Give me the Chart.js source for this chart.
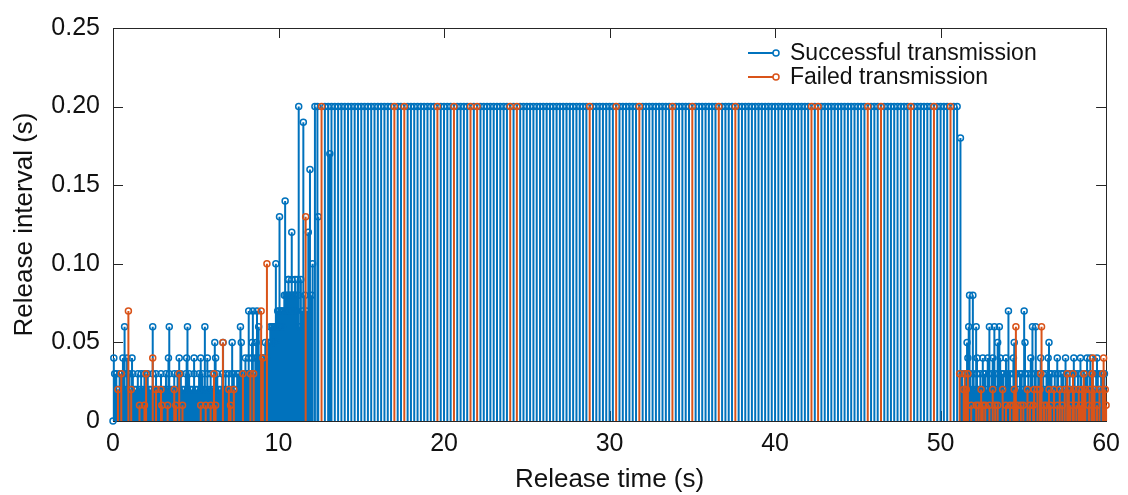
<!DOCTYPE html>
<html>
<head>
<meta charset="utf-8">
<title>Release interval</title>
<script src="https://cdn.jsdelivr.net/npm/chart.js@4.4.1/dist/chart.umd.min.js"></script>
<style>
    html, body { margin: 0; padding: 0; background: #fff; }
    #wrap { width: 1128px; height: 495px; }
</style>
</head>
<body>
<div id="wrap"><canvas id="chart" width="1128" height="495"></canvas></div>
<script>
// --- data (time in s, interval in s) ---

// successful transmissions, dense low part 0-9.4 s
const blueLowTimes = [
    0.1, 0.2, 0.3, 0.4, 0.5, 0.6, 0.7, 0.8, 0.9, 1.0,
    1.1, 1.2, 1.3, 1.4, 1.5, 1.6, 1.7, 1.8, 1.9, 2.0,
    2.1, 2.2, 2.3, 2.4, 2.5, 2.6, 2.7, 2.8, 2.9, 3.0,
    3.1, 3.2, 3.3, 3.4, 3.5, 3.6, 3.7, 3.8, 3.9, 4.0,
    4.1, 4.2, 4.3, 4.4, 4.5, 4.6, 4.7, 4.8, 4.9, 5.0,
    5.1, 5.2, 5.3, 5.4, 5.5, 5.6, 5.7, 5.8, 5.9, 6.0,
    6.1, 6.2, 6.3, 6.4, 6.5, 6.6, 6.7, 6.8, 6.9, 7.0,
    7.1, 7.2, 7.3, 7.4, 7.5, 7.6, 7.7, 7.8, 7.9, 8.0,
    8.1, 8.2, 8.3, 8.4, 8.5, 8.6, 8.7, 8.8, 8.9, 9.0,
    9.1, 9.2, 9.3, 9.4
];
const blueLowValues = [
    0.03, 0.03, 0.02, 0.03, 0.03, 0.02, 0.03, 0.02, 0.03, 0.03,
    0.02, 0.03, 0.02, 0.02, 0.03, 0.02, 0.03, 0.02, 0.03, 0.02,
    0.03, 0.02, 0.02, 0.03, 0.02, 0.03, 0.02, 0.02, 0.03, 0.02,
    0.02, 0.03, 0.02, 0.03, 0.02, 0.02, 0.03, 0.02, 0.03, 0.02,
    0.03, 0.02, 0.02, 0.03, 0.02, 0.03, 0.02, 0.02, 0.03, 0.02,
    0.02, 0.03, 0.02, 0.03, 0.02, 0.02, 0.03, 0.02, 0.03, 0.02,
    0.03, 0.02, 0.03, 0.02, 0.02, 0.03, 0.02, 0.03, 0.02, 0.03,
    0.02, 0.03, 0.03, 0.02, 0.03, 0.03, 0.02, 0.03, 0.03, 0.03,
    0.03, 0.04, 0.03, 0.04, 0.03, 0.04, 0.04, 0.03, 0.04, 0.04,
    0.04, 0.05, 0.04, 0.05
];

// successful, dense ramp 9.45-11.25 s
const blueRampTimes = [
    9.45, 9.5, 9.55, 9.6, 9.65, 9.7, 9.75, 9.8, 9.85, 9.9,
    9.95, 10.0, 10.05, 10.1, 10.15, 10.2, 10.25, 10.3, 10.35, 10.4,
    10.45, 10.5, 10.55, 10.6, 10.65, 10.7, 10.75, 10.8, 10.85, 10.9,
    10.95, 11.0, 11.05, 11.1, 11.15, 11.2, 11.25
];
const blueRampValues = [
    0.05, 0.06, 0.05, 0.06, 0.06, 0.05, 0.06, 0.06, 0.05, 0.06,
    0.07, 0.06, 0.07, 0.06, 0.07, 0.07, 0.06, 0.07, 0.08, 0.07,
    0.08, 0.07, 0.08, 0.09, 0.08, 0.07, 0.08, 0.09, 0.08, 0.07,
    0.08, 0.09, 0.08, 0.07, 0.09, 0.08, 0.06
];

// successful, single taller stems 0-13.1 s
const blueSpikeTimes = [
    0.0, 0.05, 0.6, 0.7, 0.85, 1.15, 2.4, 3.35, 3.4, 4.0,
    4.45, 4.5, 4.9, 5.3, 5.55, 5.7, 6.15, 6.2, 6.65, 7.2,
    7.7, 7.75, 8.0, 8.2, 8.4, 8.45, 8.65, 8.7, 8.8, 9.84,
    9.95, 10.06, 10.4, 10.6, 10.8, 11.0, 11.22, 11.35, 11.45, 11.5,
    11.6, 11.7, 11.8, 11.9, 12.0, 12.06, 12.2, 12.35, 12.4, 13.1
];
const blueSpikeValues = [
    0.0, 0.04, 0.04, 0.06, 0.04, 0.04, 0.06, 0.04, 0.06, 0.04,
    0.04, 0.06, 0.04, 0.04, 0.06, 0.04, 0.05, 0.04, 0.05, 0.05,
    0.06, 0.05, 0.04, 0.07, 0.05, 0.07, 0.05, 0.07, 0.06, 0.10,
    0.06, 0.13, 0.14, 0.09, 0.12, 0.08, 0.20, 0.09, 0.07, 0.19,
    0.08, 0.07, 0.12, 0.16, 0.08, 0.10, 0.20, 0.20, 0.13, 0.17
];

// successful, plateau 12.8-51.0 s
const bluePlateauTimes = [
    12.8, 13.0, 13.2, 13.4, 13.6, 13.8, 14.0, 14.2, 14.4, 14.6,
    14.8, 15.0, 15.2, 15.4, 15.6, 15.8, 16.0, 16.2, 16.4, 16.6,
    16.8, 17.2, 17.4, 17.8, 18.0, 18.2, 18.4, 18.6, 18.8, 19.0,
    19.2, 19.4, 19.8, 20.0, 20.2, 20.4, 20.8, 21.0, 21.2, 21.4,
    21.8, 22.2, 22.4, 22.6, 22.8, 23.0, 23.2, 23.4, 23.6, 23.8,
    24.2, 24.6, 24.8, 25.0, 25.2, 25.4, 25.6, 25.8, 26.0, 26.2,
    26.4, 26.6, 26.8, 27.0, 27.2, 27.4, 27.6, 27.8, 28.0, 28.2,
    28.4, 28.6, 29.0, 29.2, 29.4, 29.6, 29.8, 30.0, 30.2, 30.6,
    30.8, 31.0, 31.2, 31.4, 31.6, 32.0, 32.2, 32.4, 32.6, 32.8,
    33.0, 33.2, 33.4, 33.6, 34.0, 34.2, 34.4, 34.6, 34.8, 35.2,
    35.4, 35.6, 35.8, 36.0, 36.2, 36.4, 36.8, 37.0, 37.2, 37.4,
    37.8, 38.0, 38.2, 38.4, 38.6, 38.8, 39.0, 39.2, 39.4, 39.6,
    39.8, 40.0, 40.2, 40.4, 40.6, 40.8, 41.0, 41.2, 41.4, 41.6,
    41.8, 42.0, 42.4, 42.8, 43.0, 43.2, 43.4, 43.6, 43.8, 44.0,
    44.2, 44.4, 44.6, 44.8, 45.0, 45.2, 45.4, 45.8, 46.0, 46.2,
    46.6, 46.8, 47.0, 47.2, 47.4, 47.6, 47.8, 48.0, 48.4, 48.6,
    48.8, 49.0, 49.2, 49.4, 49.8, 50.0, 50.2, 50.4, 50.8, 51.0
];
const bluePlateauValues = [
    0.2, 0.2, 0.2, 0.2, 0.2, 0.2, 0.2, 0.2, 0.2, 0.2,
    0.2, 0.2, 0.2, 0.2, 0.2, 0.2, 0.2, 0.2, 0.2, 0.2,
    0.2, 0.2, 0.2, 0.2, 0.2, 0.2, 0.2, 0.2, 0.2, 0.2,
    0.2, 0.2, 0.2, 0.2, 0.2, 0.2, 0.2, 0.2, 0.2, 0.2,
    0.2, 0.2, 0.2, 0.2, 0.2, 0.2, 0.2, 0.2, 0.2, 0.2,
    0.2, 0.2, 0.2, 0.2, 0.2, 0.2, 0.2, 0.2, 0.2, 0.2,
    0.2, 0.2, 0.2, 0.2, 0.2, 0.2, 0.2, 0.2, 0.2, 0.2,
    0.2, 0.2, 0.2, 0.2, 0.2, 0.2, 0.2, 0.2, 0.2, 0.2,
    0.2, 0.2, 0.2, 0.2, 0.2, 0.2, 0.2, 0.2, 0.2, 0.2,
    0.2, 0.2, 0.2, 0.2, 0.2, 0.2, 0.2, 0.2, 0.2, 0.2,
    0.2, 0.2, 0.2, 0.2, 0.2, 0.2, 0.2, 0.2, 0.2, 0.2,
    0.2, 0.2, 0.2, 0.2, 0.2, 0.2, 0.2, 0.2, 0.2, 0.2,
    0.2, 0.2, 0.2, 0.2, 0.2, 0.2, 0.2, 0.2, 0.2, 0.2,
    0.2, 0.2, 0.2, 0.2, 0.2, 0.2, 0.2, 0.2, 0.2, 0.2,
    0.2, 0.2, 0.2, 0.2, 0.2, 0.2, 0.2, 0.2, 0.2, 0.2,
    0.2, 0.2, 0.2, 0.2, 0.2, 0.2, 0.2, 0.2, 0.2, 0.2,
    0.2, 0.2, 0.2, 0.2, 0.2, 0.2, 0.2, 0.2, 0.2, 0.2
];

// successful, dense tail 51.3-59.9 s
const blueTailTimes = [
    51.3, 51.4, 51.5, 51.6, 51.7, 51.8, 51.9, 52.0, 52.1, 52.2,
    52.3, 52.4, 52.5, 52.6, 52.7, 52.8, 52.9, 53.0, 53.1, 53.2,
    53.3, 53.4, 53.5, 53.6, 53.7, 53.8, 53.9, 54.0, 54.1, 54.2,
    54.3, 54.4, 54.5, 54.6, 54.7, 54.8, 54.9, 55.0, 55.1, 55.2,
    55.3, 55.4, 55.5, 55.6, 55.7, 55.8, 55.9, 56.0, 56.1, 56.2,
    56.3, 56.4, 56.5, 56.6, 56.7, 56.8, 56.9, 57.0, 57.1, 57.2,
    57.3, 57.4, 57.5, 57.6, 57.7, 57.8, 57.9, 58.0, 58.1, 58.2,
    58.3, 58.4, 58.5, 58.6, 58.7, 58.8, 58.9, 59.0, 59.1, 59.2,
    59.3, 59.4, 59.5, 59.6, 59.7, 59.8, 59.9
];
const blueTailValues = [
    0.03, 0.02, 0.03, 0.03, 0.02, 0.03, 0.02, 0.03, 0.02, 0.03,
    0.02, 0.03, 0.02, 0.03, 0.03, 0.02, 0.03, 0.02, 0.03, 0.02,
    0.03, 0.02, 0.03, 0.02, 0.03, 0.03, 0.02, 0.03, 0.02, 0.03,
    0.02, 0.03, 0.02, 0.03, 0.02, 0.03, 0.03, 0.02, 0.03, 0.02,
    0.03, 0.02, 0.03, 0.02, 0.03, 0.02, 0.03, 0.03, 0.02, 0.03,
    0.02, 0.03, 0.02, 0.03, 0.03, 0.02, 0.03, 0.02, 0.03, 0.02,
    0.03, 0.03, 0.02, 0.03, 0.02, 0.03, 0.02, 0.03, 0.03, 0.02,
    0.03, 0.02, 0.03, 0.02, 0.03, 0.03, 0.02, 0.03, 0.02, 0.03,
    0.02, 0.03, 0.03, 0.02, 0.03, 0.02, 0.03
];

// successful, single taller stems in the tail
const blueTailSpikeTimes = [
    51.2, 51.6, 51.65, 51.7, 51.75, 51.95, 52.15, 52.2, 52.55, 52.85,
    52.95, 53.15, 53.25, 53.45, 53.55, 53.6, 53.95, 54.1, 54.4, 54.45,
    55.05, 55.1, 55.45, 55.55, 55.75, 56.05, 56.5, 56.55, 57.05, 57.55,
    58.05, 58.45, 58.85, 59.05, 59.45
];
const blueTailSpikeValues = [
    0.18, 0.05, 0.04, 0.06, 0.08, 0.08, 0.06, 0.04, 0.04, 0.04,
    0.06, 0.04, 0.06, 0.05, 0.06, 0.04, 0.04, 0.07, 0.04, 0.05,
    0.07, 0.05, 0.04, 0.06, 0.06, 0.04, 0.04, 0.05, 0.04, 0.04,
    0.04, 0.04, 0.04, 0.04, 0.04
];

// failed transmissions
const orangeLowTimes = [
    0.3, 0.5, 0.93, 1.1, 1.6, 1.9, 2.0, 2.4, 2.6, 2.9,
    2.95, 3.3, 3.7, 3.8, 4.0, 4.2, 5.3, 5.6, 5.9, 6.1,
    6.2, 6.64, 7.0, 7.1, 7.3, 7.85, 8.3, 8.5, 8.95, 9.05,
    9.3, 11.64
];
const orangeLowValues = [
    0.02, 0.03, 0.07, 0.02, 0.01, 0.01, 0.03, 0.04, 0.02, 0.02,
    0.01, 0.01, 0.02, 0.01, 0.03, 0.01, 0.01, 0.01, 0.01, 0.03,
    0.01, 0.05, 0.02, 0.01, 0.02, 0.03, 0.03, 0.03, 0.07, 0.04,
    0.10, 0.13
];
const orangePlateauTimes = [
    12.6, 17.0, 17.6, 19.6, 20.6, 21.6, 22.0, 24.0, 24.4, 28.8,
    30.4, 31.8, 33.8, 35.0, 36.6, 37.6, 42.2, 42.6, 45.6, 46.4,
    48.2, 49.6, 50.6
];
const orangePlateauValues = [
    0.2, 0.2, 0.2, 0.2, 0.2, 0.2, 0.2, 0.2, 0.2, 0.2,
    0.2, 0.2, 0.2, 0.2, 0.2, 0.2, 0.2, 0.2, 0.2, 0.2,
    0.2, 0.2, 0.2
];
const orangeTailTimes = [
    51.15, 51.4, 51.45, 51.55, 51.65, 51.85, 52.15, 52.3, 52.45, 52.55,
    52.7, 52.95, 53.15, 53.3, 53.45, 53.75, 53.95, 54.2, 54.4, 54.45,
    54.55, 54.65, 54.85, 55.0, 55.25, 55.4, 55.6, 55.65, 55.85, 56.0,
    56.05, 56.1, 56.25, 56.4, 56.55, 56.65, 56.85, 57.05, 57.2, 57.35,
    57.5, 57.65, 57.75, 57.85, 58.0, 58.05, 58.2, 58.35, 58.45, 58.55,
    58.65, 58.75, 58.95, 59.0, 59.15, 59.2, 59.3, 59.45, 59.6, 59.8,
    59.85, 59.95, 60.0
];
const orangeTailValues = [
    0.03, 0.02, 0.03, 0.02, 0.03, 0.01, 0.01, 0.01, 0.02, 0.01,
    0.01, 0.01, 0.02, 0.01, 0.01, 0.02, 0.01, 0.01, 0.01, 0.02,
    0.06, 0.01, 0.01, 0.01, 0.02, 0.01, 0.01, 0.02, 0.02, 0.02,
    0.03, 0.06, 0.01, 0.01, 0.02, 0.01, 0.02, 0.01, 0.02, 0.01,
    0.02, 0.03, 0.02, 0.01, 0.03, 0.02, 0.01, 0.02, 0.01, 0.02,
    0.03, 0.02, 0.01, 0.02, 0.03, 0.04, 0.02, 0.01, 0.02, 0.03,
    0.04, 0.02, 0.01
];

const xTicks = [0, 10, 20, 30, 40, 50, 60];
const yTicks = [0, 0.05, 0.10, 0.15, 0.20, 0.25];

const BLUE = '#0072BD';
const ORANGE = '#D95319';
const FONT = "'Liberation Sans', Arial, Helvetica, sans-serif";

const successTimes = [...blueLowTimes, ...blueRampTimes, ...blueSpikeTimes,
    ...bluePlateauTimes, ...blueTailTimes, ...blueTailSpikeTimes];
const successValues = [...blueLowValues, ...blueRampValues, ...blueSpikeValues,
    ...bluePlateauValues, ...blueTailValues, ...blueTailSpikeValues];
const failedTimes = [...orangeLowTimes, ...orangePlateauTimes, ...orangeTailTimes];
const failedValues = [...orangeLowValues, ...orangePlateauValues, ...orangeTailValues];

// each stem: base point, top point, gap
function stems(times, values) {
    const pts = [];
    times.forEach((t, i) => {
        pts.push({ x: t, y: 0 }, { x: t, y: values[i] }, { x: t, y: null });
    });
    return pts;
}

function stemDataset(label, color, times, values, order) {
    return {
        label: label,
        data: stems(times, values),
        borderColor: color,
        borderWidth: 2,
        borderCapStyle: 'butt',
        pointRadius: ctx => (ctx.dataIndex % 3 === 1 ? 3 : 0),
        pointBorderColor: color,
        pointBackgroundColor: 'rgba(255,255,255,0)',
        pointBorderWidth: 1.5,
        spanGaps: false,
        tension: 0,
        clip: false,
        order: order
    };
}

// box round the axes with inward ticks (MATLAB style)
const boxPlugin = {
    id: 'box',
    beforeDatasetsDraw(chart) {
        const { ctx, chartArea: a, scales } = chart;
        const len = 10;
        ctx.save();
        ctx.strokeStyle = '#262626';
        ctx.lineWidth = 1;
        ctx.strokeRect(Math.round(a.left) + 0.5, Math.round(a.top) + 0.5,
            Math.round(a.right - a.left), Math.round(a.bottom - a.top));
        ctx.beginPath();
        xTicks.forEach(v => {
            const px = Math.round(scales.x.getPixelForValue(v)) + 0.5;
            ctx.moveTo(px, a.bottom); ctx.lineTo(px, a.bottom - len);
            ctx.moveTo(px, a.top); ctx.lineTo(px, a.top + len);
        });
        yTicks.forEach(v => {
            const py = Math.round(scales.y.getPixelForValue(v)) + 0.5;
            ctx.moveTo(a.left, py); ctx.lineTo(a.left + len, py);
            ctx.moveTo(a.right, py); ctx.lineTo(a.right - len, py);
        });
        ctx.stroke();
        ctx.restore();
    }
};

// legend inside the axes, line + marker then label
const legendPlugin = {
    id: 'stemLegend',
    afterDraw(chart) {
        const { ctx } = chart;
        const rows = [
            { text: 'Successful transmission', color: BLUE, y: 53 },
            { text: 'Failed transmission', color: ORANGE, y: 77 }
        ];
        ctx.save();
        ctx.font = '23px ' + FONT;
        ctx.textBaseline = 'middle';
        ctx.textAlign = 'left';
        rows.forEach(r => {
            ctx.strokeStyle = r.color;
            ctx.lineWidth = 2;
            ctx.beginPath();
            ctx.moveTo(748, r.y);
            ctx.lineTo(773, r.y);
            ctx.stroke();
            ctx.lineWidth = 1.5;
            ctx.beginPath();
            ctx.arc(776, r.y, 3, 0, Math.PI * 2);
            ctx.stroke();
            ctx.fillStyle = '#111';
            ctx.fillText(r.text, 790, r.y + 1);
        });
        ctx.restore();
    }
};

new Chart(document.getElementById('chart'), {
    type: 'line',
    data: {
        datasets: [
            stemDataset('Successful transmission', BLUE, successTimes, successValues, 2),
            stemDataset('Failed transmission', ORANGE, failedTimes, failedValues, 1)
        ]
    },
    options: {
        responsive: false,
        animation: false,
        events: [],
        layout: { padding: { top: 24, right: 15, bottom: 0, left: 0 } },
        plugins: {
            legend: { display: false },
            tooltip: { enabled: false }
        },
        scales: {
            x: {
                type: 'linear',
                min: 0,
                max: 60,
                afterBuildTicks: s => { s.ticks = xTicks.map(v => ({ value: v })); },
                afterFit: s => { s.height = 74; },
                grid: { display: false, drawTicks: false },
                border: { display: false },
                ticks: {
                    padding: 8,
                    maxRotation: 0,
                    color: '#111',
                    font: { family: FONT, size: 25 }
                },
                title: {
                    display: true,
                    text: 'Release time (s)',
                    color: '#111',
                    font: { family: FONT, size: 26 },
                    padding: { top: 0, bottom: 0 }
                }
            },
            y: {
                type: 'linear',
                min: 0,
                max: 0.25,
                afterBuildTicks: s => { s.ticks = yTicks.map(v => ({ value: v })); },
                afterFit: s => { s.width = 113; },
                grid: { display: false, drawTicks: false },
                border: { display: false },
                ticks: {
                    padding: 13,
                    color: '#111',
                    font: { family: FONT, size: 25 },
                    callback: v => (v === 0 ? '0' : v.toFixed(2))
                },
                title: {
                    display: true,
                    text: 'Release interval (s)',
                    color: '#111',
                    font: { family: FONT, size: 26 },
                    padding: { top: 9, bottom: 0 }
                }
            }
        }
    },
    plugins: [boxPlugin, legendPlugin]
});
</script>
</body>
</html>
